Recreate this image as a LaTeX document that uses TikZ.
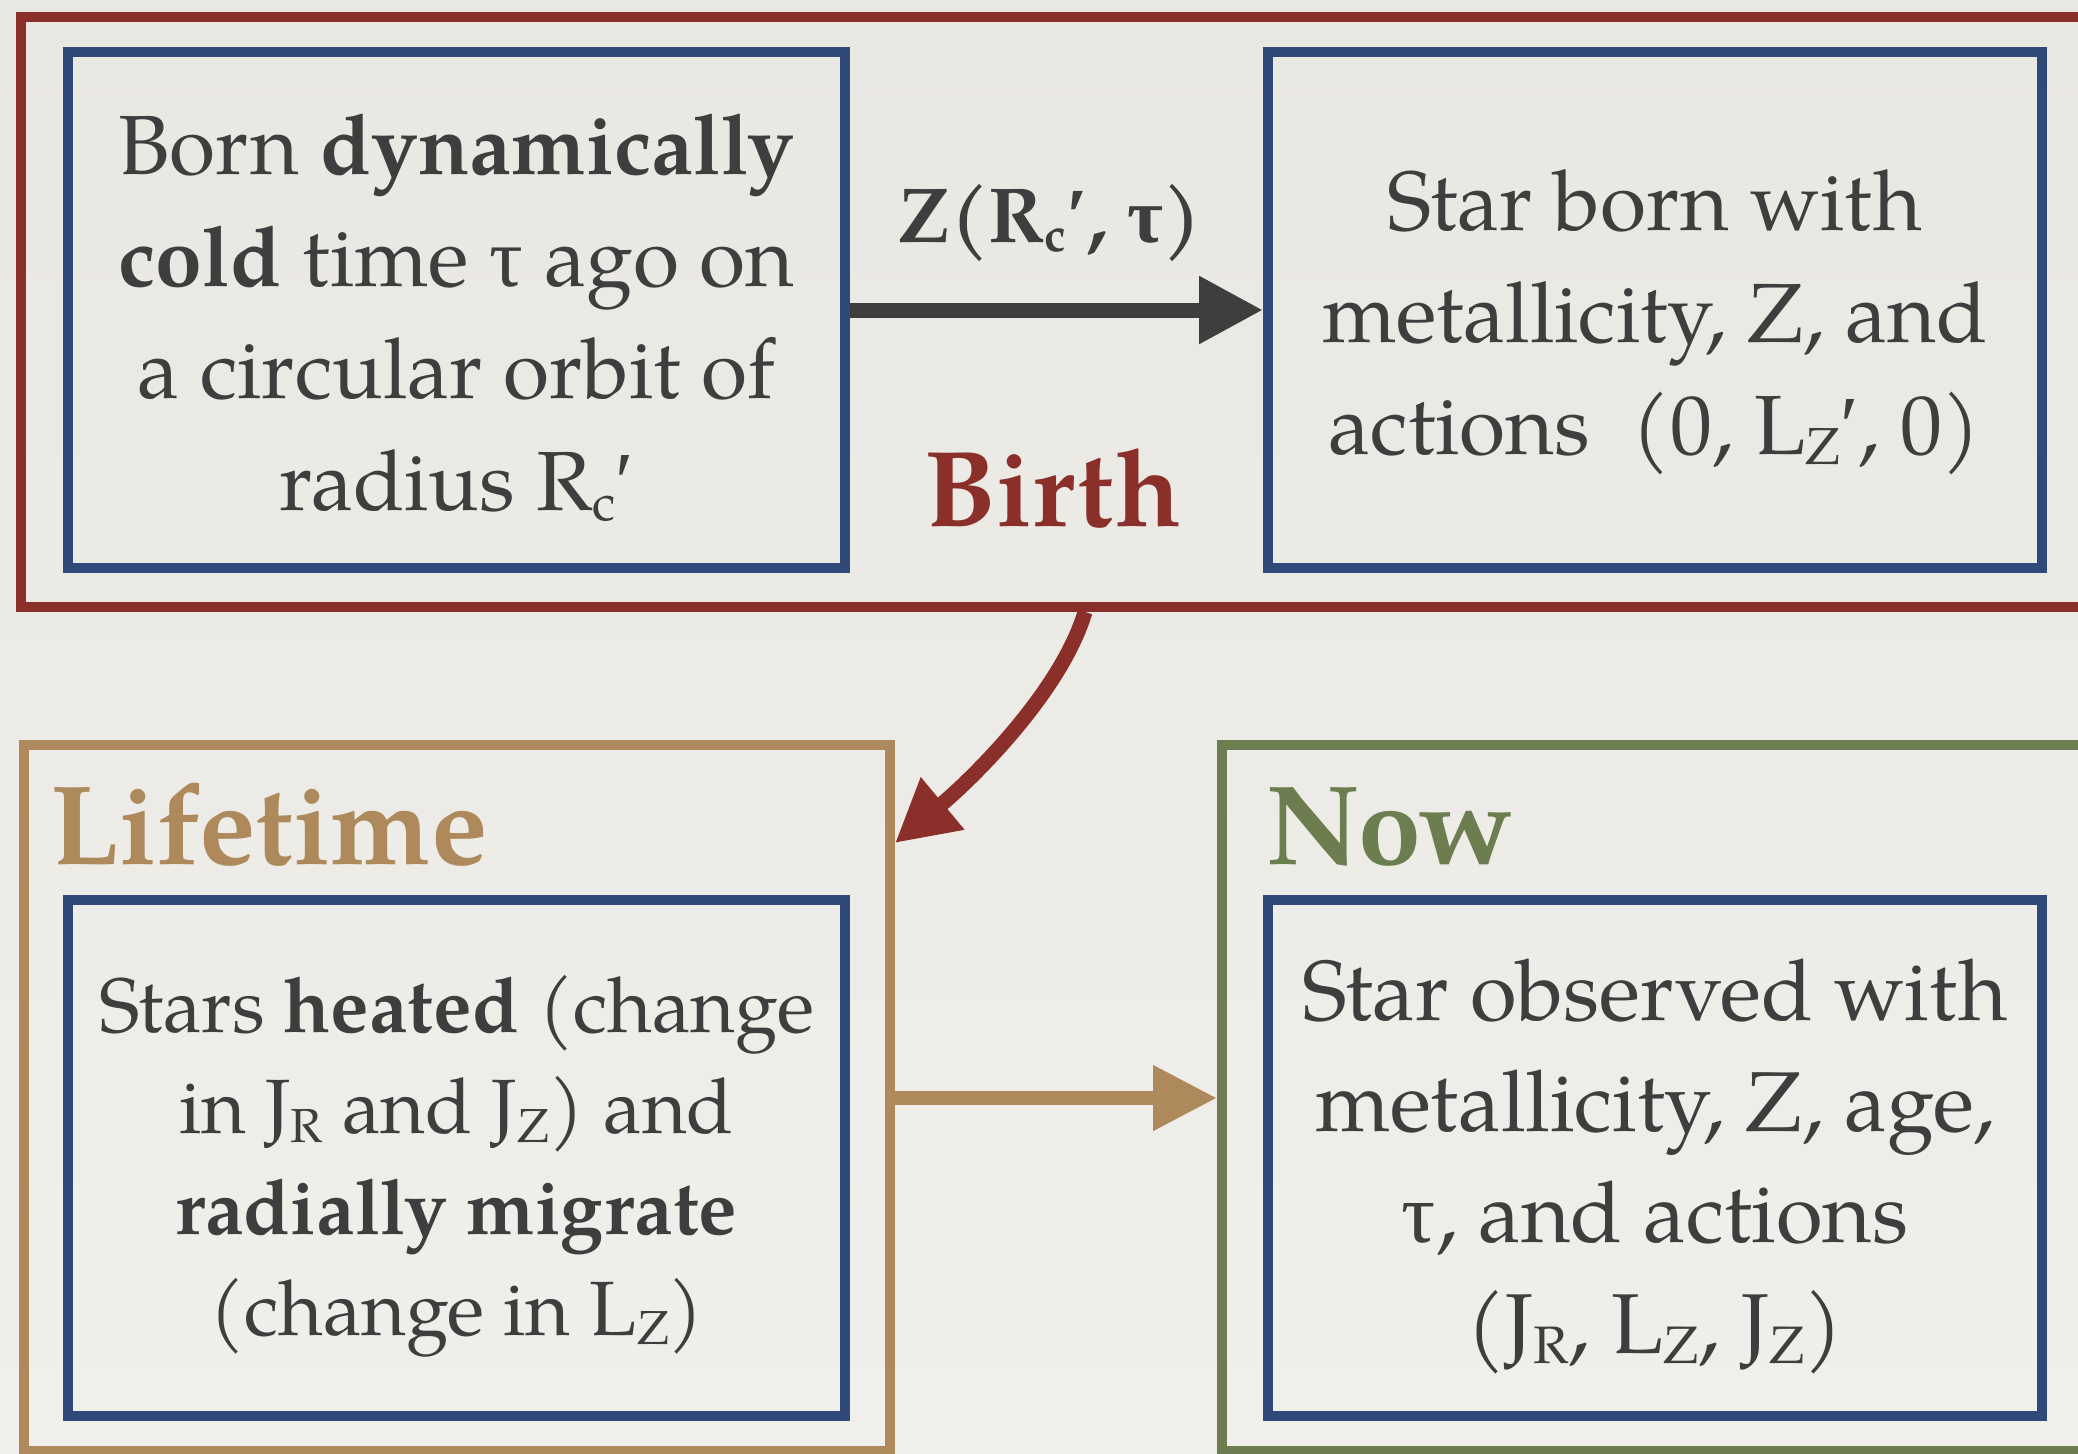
\documentclass[tikz,border=0pt]{standalone}
\usepackage{graphicx}
\usepackage{fontspec}
\setmainfont{TeX Gyre Pagella}
\newfontfamily\symf{Liberation Serif}
\usetikzlibrary{arrows.meta,calc}
\definecolor{bgtop}{RGB}{233,231,226}
\definecolor{bgbot}{RGB}{241,239,235}
\definecolor{cred}{RGB}{138,47,41}
\definecolor{cblue}{RGB}{47,74,121}
\definecolor{ctan}{RGB}{173,137,91}
\definecolor{cgreen}{RGB}{108,126,79}
\definecolor{ink}{RGB}{62,62,62}
\newcommand\dn[1]{\raisebox{-0.12em}{\scalebox{0.62}{#1}}}
\newcommand\tauch{{\symf τ}}
\newcommand\prm{{\symf ′}}
\begin{document}
\begin{tikzpicture}[x=1pt,y=-1pt,
  frame/.style={draw=#1, line width=10pt, inner sep=0pt},
  inbox/.style={draw=cblue, line width=10pt, minimum width=777pt, minimum height=516pt, inner sep=0pt},
  bodytxt/.style={align=center, text=ink, inner sep=0pt},
  toptext/.style={font=\fontsize{84}{112}\selectfont},
  title/.style={inner sep=0pt, font=\bfseries\fontsize{113}{125}\selectfont},
  darkarrow/.style={draw=ink, line width=15pt, -{Triangle[length=64pt,width=64pt]}},
  tanarrow/.style={draw=ctan, line width=14pt, -{Triangle[length=64pt,width=62pt]}},
  redarrow/.style={draw=cred, line width=15pt, -{Triangle[length=62pt,width=64pt]}}]
\path[use as bounding box] (0,0) rectangle (2078,1454);
\shade[top color=bgtop, bottom color=bgbot] (0,0) rectangle (2078,1454);
\clip (0,0) rectangle (2078,1454);
% outer frames
\node[frame=cred, minimum width=2128pt, minimum height=590pt] (birth) at (1085,312) {};
\node[frame=ctan, minimum width=866pt, minimum height=706pt] (life) at (457,1098) {};
\node[frame=cgreen, minimum width=938pt, minimum height=706pt] (now) at (1691,1098) {};
% inner boxes
\node[inbox] (tl) at (456.5,310) {};
\node[inbox, minimum width=774pt] (tr) at (1655,310) {};
\node[inbox] (bl) at (456.5,1158) {};
\node[inbox, minimum width=774pt] (br) at (1655,1158) {};
% box texts
\node[bodytxt, toptext] (tltx) at ($(tl.center)+(0,8)$)
  {Born \textbf{dynamically}\\ \textbf{cold} time \tauch{} ago on\\ a circular orbit of\\ radius R\dn{c}\prm};
\node[bodytxt, toptext] (trtx) at ($(tr.center)+(0,12)$)
  {Star born with\\ metallicity, Z, and\\ actions\enspace (0, L\dn{Z}\prm, 0)};
\node[bodytxt, font=\fontsize{77}{101}\selectfont] (bltx) at ($(bl.center)+(0,8)$)
  {Stars \textbf{heated} (change\\ in J\dn{R} and J\dn{Z}) and\\ \textbf{radially migrate}\\ (change in L\dn{Z})};
\node[bodytxt, font=\fontsize{85}{111}\selectfont] (brtx) at ($(br.center)+(0,8)$)
  {Star observed with\\ metallicity, Z, age,\\ \tauch, and actions\\ (J\dn{R}, L\dn{Z}, J\dn{Z})};
% labels
\node[anchor=base, inner sep=0pt, text=ink, font=\bfseries\fontsize{78}{90}\selectfont] (zlab) at (1050,242)
  {Z(R\dn{c}\prm, {\symf\bfseries τ})};
\node[anchor=base, inner sep=0pt, text=cred, font=\bfseries\fontsize{108}{120}\selectfont] (birthlab) at (1053,526) {Birth};
\node[title, anchor=base west, text=ctan] (lifelab) at (50,864) {Lifetime};
\node[title, anchor=base west, text=cgreen] (nowlab) at (1266,864) {Now};
% connectors
\coordinate (tip) at ($(life.north east)+(0,103)$);
\draw[darkarrow] (tl.east) -- (tr.west);
\draw[tanarrow] (life.east) -- (now.west);
\draw[redarrow] (birth.south) .. controls +(-24,80) and +(77,-64) .. (tip);
\end{tikzpicture}
\end{document}
